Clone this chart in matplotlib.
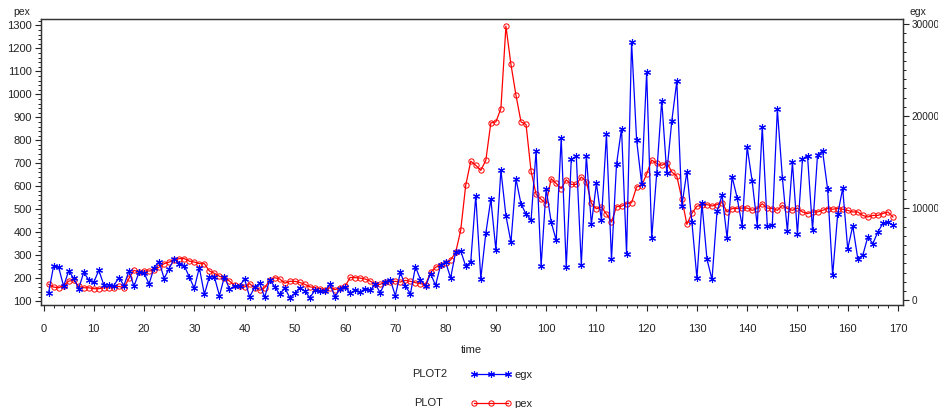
import matplotlib
matplotlib.use("Agg")
import matplotlib.pyplot as plt
from matplotlib.ticker import MultipleLocator
from matplotlib.lines import Line2D

plt.rcParams['font.family'] = ['Liberation Sans', 'DejaVu Sans']

time = list(range(1, 170))

pex = [173, 161, 158, 167, 187, 190, 164, 158, 158, 154,
       154, 158, 158, 158, 164, 158, 199, 234, 226, 231,
       231, 234, 248, 263, 270, 277, 285, 285, 274, 270,
       263, 263, 231, 221, 208, 202, 187, 168, 164, 161,
       176, 158, 147, 158, 190, 202, 196, 178, 186, 186,
       181, 173, 162, 158, 154, 150, 158, 150, 158, 164,
       203, 202, 200, 196, 187, 173, 173, 183, 183, 186,
       183, 190, 186, 180, 176, 171, 225, 247, 256, 266,
       279, 312, 408, 604, 709, 691, 669, 713, 876, 880,
       938, 1297, 1130, 996, 880, 869, 666, 565, 543, 524,
       633, 612, 590, 628, 608, 608, 640, 620, 526, 502,
       510, 479, 444, 511, 513, 524, 528, 597, 603, 653,
       714, 699, 691, 703, 662, 644, 546, 434, 482, 513,
       517, 520, 514, 520, 529, 488, 503, 503, 505, 505,
       495, 503, 524, 505, 503, 495, 517, 503, 495, 505,
       488, 481, 488, 488, 495, 503, 500, 503, 500, 495,
       488, 488, 473, 466, 473, 473, 481, 488, 466]

egx = [790, 3700, 3620, 1520, 3190, 2390, 1270, 3040, 2210, 1960,
       3260, 1660, 1660, 1600, 2470, 1600, 3190, 1520, 3040, 2970,
       1770, 3550, 4210, 2360, 3450, 4490, 3990, 3770, 2530, 1300,
       3550, 650, 2530, 2530, 510, 2580, 1200, 1520, 1550, 2320,
       360, 1410, 1850, 330, 2250, 1470, 650, 1360, 270, 760,
       1380, 980, 290, 1090, 1010, 1010, 1740, 360, 1270, 1450,
       790, 1090, 900, 1270, 1090, 1740, 820, 1990, 2230, 490,
       3040, 1520, 710, 3640, 2250, 1520, 2900, 1630, 3800, 4160,
       2420, 5270, 5380, 3700, 4160, 11360, 2360, 7280, 10980, 5470,
       14130, 9180, 6300, 13170, 10460, 9370, 8700, 16220, 3730, 12100,
       8510, 6520, 17630, 3620, 15290, 15650, 3840, 15710, 8240, 12720,
       8700, 18040, 4430, 14760, 18650, 5080, 28040, 17390, 12680, 24780,
       6710, 13800, 21680, 13780, 19480, 23770, 10290, 13950, 8510, 2390,
       10540, 4460, 2260, 9650, 11410, 6770, 13400, 11140, 8080, 16630,
       12900, 8120, 18840, 8080, 8210, 20740, 13320, 7500, 14970, 7210,
       15330, 15710, 7680, 15820, 16200, 12070, 2720, 9320, 12140, 5580,
       8080, 4530, 4890, 6880, 6160, 7420, 8340, 8450, 8150]

x_ticks = list(range(0, 171, 10))
pex_ticks = list(range(100, 1301, 100))
egx_ticks = [0, 10000, 20000, 30000]

W, H = 938, 408
fig = plt.figure(figsize=(W / 100, H / 100), dpi=100)
ax = fig.add_axes([41 / W, 1 - 305 / H, (903 - 41) / W, (305 - 19) / H])
ax2 = ax.twinx()

ax.plot(time, pex, color='#ff0000', lw=0.9, marker='o', ms=3.8,
        mfc='none', mec='#ff0000', mew=0.7, zorder=2)
ax2.plot(time, egx, color='#0000ff', lw=0.9, marker=(6, 2, 0), ms=5,
         mec='#0000ff', mew=0.8, zorder=3)

ax.set_xlim(-0.5, 171)
ax.set_ylim(83, 1328)
ax2.set_ylim(-510, 30540)

ax.set_xticks(x_ticks)
ax.xaxis.set_minor_locator(MultipleLocator(2))
ax.set_yticks(pex_ticks)
ax.yaxis.set_minor_locator(MultipleLocator(20))
ax2.set_yticks(egx_ticks)
ax2.yaxis.set_minor_locator(MultipleLocator(1000))

for a in (ax, ax2):
    a.tick_params(which='major', direction='out', length=4.5, width=0.8,
                  labelsize=8, colors='#222222', pad=2)
    a.tick_params(which='minor', direction='out', length=2.5, width=0.7,
                  colors='#222222')
    for s in a.spines.values():
        s.set_linewidth(0.9)
        s.set_color('#333333')
ax.tick_params(axis='x', pad=9)
ax2.tick_params(axis='y', which='major', labelsize=7.2, pad=1.5)

fig.text(22 / W, 1 - 12 / H, 'pex', fontsize=7.5, ha='center', va='center', color='#222222')
fig.text(909 / W, 1 - 12 / H, 'egx', fontsize=7.5, ha='left', va='center', color='#222222')
fig.text(471 / W, 1 - 350 / H, 'time', fontsize=8, ha='center', va='center', color='#222222')

# legend
fig.text(412 / W, 1 - 374 / H, 'PLOT2', fontsize=8, ha='left', va='center', color='#222222')
fig.text(414 / W, 1 - 403 / H, 'PLOT', fontsize=8, ha='left', va='center', color='#222222')
lx = [474 / W, 491 / W, 508 / W]
fig.add_artist(Line2D(lx, [1 - 374 / H] * 3, transform=fig.transFigure, color='#0000ff',
                      lw=0.9, marker=(6, 2, 0), ms=5, mew=0.8))
fig.add_artist(Line2D(lx, [1 - 403 / H] * 3, transform=fig.transFigure, color='#ff0000',
                      lw=0.9, marker='o', ms=3.8, mfc='none', mew=0.7))
fig.text(514 / W, 1 - 375 / H, 'egx', fontsize=8, ha='left', va='center', color='#222222')
fig.text(514 / W, 1 - 404 / H, 'pex', fontsize=8, ha='left', va='center', color='#222222')

fig.savefig('out.png', dpi=100)
